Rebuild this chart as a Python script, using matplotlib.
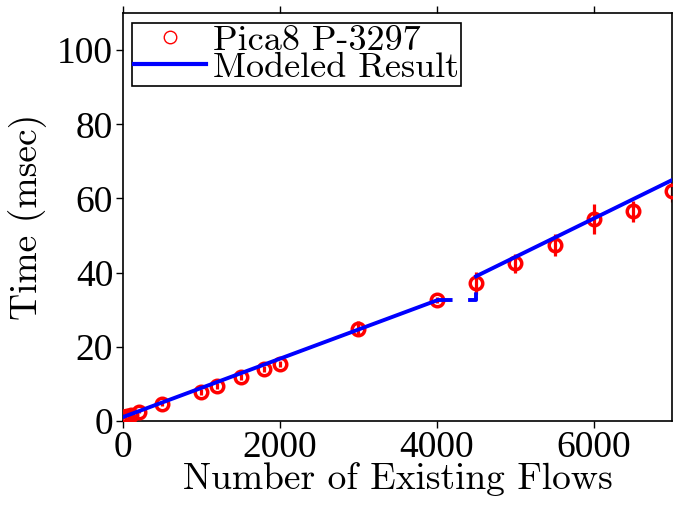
import numpy as np
import matplotlib
matplotlib.use("Agg")
import matplotlib.pyplot as plt

# measured points (flows, msec, error)
flows = [0, 10, 50, 100, 200, 500, 1000, 1200, 1500, 1800, 2000, 3000,
         4000, 4500, 5000, 5500, 6000, 6500, 7000]
times = [1.0, 1.1, 1.3, 1.7, 2.5, 4.6, 7.8, 9.4, 11.8, 14.0, 15.4, 24.8,
         32.5, 37.2, 42.5, 47.5, 54.5, 56.5, 62.0]
errs = [0.4, 0.4, 0.4, 0.4, 0.5, 0.6, 0.8, 0.8, 0.8, 0.8, 0.8, 2.0,
        0.8, 3.0, 2.5, 3.0, 4.0, 2.8, 3.0]

# model, two pieces with a dashed jump between
model_x1 = [0, 4000]
model_y1 = [1.0, 32.5]
jump_x = [4000, 4500, 4500]
jump_y = [32.5, 32.5, 39.0]
model_x2 = [4500, 7000]
model_y2 = [39.0, 65.0]

fig = plt.figure(figsize=(6.75, 5.07), dpi=100)
ax = fig.add_axes([0.182, 0.170, 0.814, 0.804])

ax.errorbar(flows, times, yerr=errs, fmt='none', ecolor='red', elinewidth=2.3, capsize=0, zorder=2)
ax.plot(flows, times, 'o', mfc='none', mec='red', mew=2.5, ms=9, zorder=3)
ax.plot(model_x1, model_y1, '-', color='blue', lw=2.8, zorder=4)
ax.plot(jump_x, jump_y, '--', color='blue', lw=2.8, dashes=(4, 4), zorder=4)
ax.plot(model_x2, model_y2, '-', color='blue', lw=2.8, zorder=4)

# legend proxies
h1, = ax.plot([], [], 'o', mfc='none', mec='red', mew=1, ms=9)
h2, = ax.plot([], [], '-', color='blue', lw=3)
leg = ax.legend([h1, h2], ['Pica8 P-3297', 'Modeled Result'], loc='upper left',
                prop={'family': 'cmr10', 'size': 26}, fancybox=False, framealpha=1,
                edgecolor='black', borderpad=0.05, labelspacing=-0.15, handlelength=2.0,
                handletextpad=0.2, borderaxespad=0.25, bbox_to_anchor=(0.0, 0.998))
leg.get_frame().set_linewidth(1.2)

ax.set_xlim(0, 7000)
ax.set_ylim(0, 110)
ax.set_xticks([0, 2000, 4000, 6000])
ax.set_yticks([0, 20, 40, 60, 80, 100])
ax.tick_params(direction='out', top=True, right=False, length=5, width=1, labelsize=27, pad=2)
for lab in ax.get_xticklabels() + ax.get_yticklabels():
    lab.set_family('Liberation Serif')

ax.set_xlabel('Number of Existing Flows', family='cmr10', fontsize=27, labelpad=-2)
ax.set_ylabel('Time (msec)', family='cmr10', fontsize=27, labelpad=7)
for s in ax.spines.values():
    s.set_linewidth(1.2)

fig.savefig('out.png', dpi=100)
